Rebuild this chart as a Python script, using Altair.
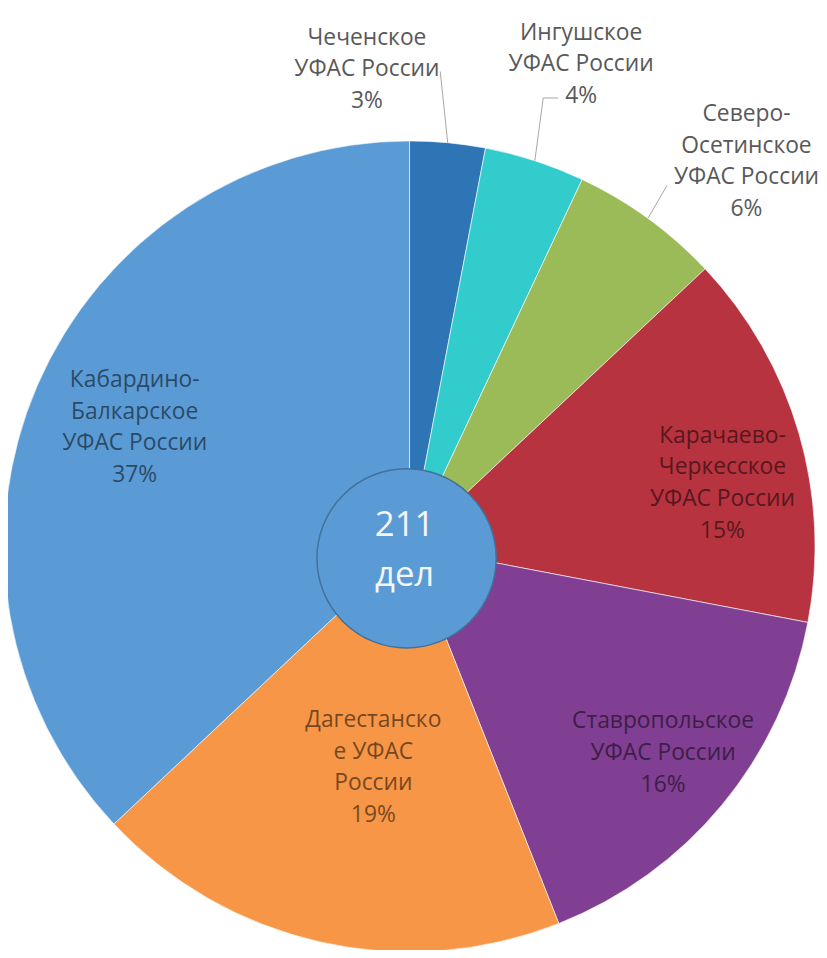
import math
import altair as alt
import pandas as pd

# ---- data ----
categories = [
    "Чеченское", "Ингушское", "Северо-Осетинское", "Карачаево-Черкесское",
    "Ставропольское", "Дагестанское", "Кабардино-Балкарское",
]
label_lines = [
    "Чеченское\nУФАС России",
    "Ингушское\nУФАС России",
    "Северо-\nОсетинское\nУФАС России",
    "Карачаево-\nЧеркесское\nУФАС России",
    "Ставропольское\nУФАС России",
    "Дагестанско\nе УФАС\nРоссии",
    "Кабардино-\nБалкарское\nУФАС России",
]
percents = [3, 4, 6, 15, 16, 19, 37]
colors = ["#2e75b6", "#33cccc", "#9bbb59", "#b6333f", "#803f93", "#f79646", "#5b9bd5"]
center_lines = ["211", "дел"]

# ---- layout / style (not data) ----
CX, CY, R = 405, 539, 409
FONT = "Open Sans"
LH = 32
# label radius, angular shift (deg), outside flag
label_r = [483, 516, 516, 322, 330, 226, 302]
label_shift = [-10.5, 1.6, 5.2, 4.8, -0.4, -3.3, 0.0]
outside = [1, 1, 1, 0, 0, 0, 0]
# leader end radius, end angular shift (deg), horizontal hook length
lead_r = [480, 472, 447, 0, 0, 0, 0]
lead_shift = [-1.7, -1.4, -0.5, 0, 0, 0, 0]
lead_hook = [0, 15, 0, 0, 0, 0, 0]

labels = [l + "\n" + f"{p}%" for l, p in zip(label_lines, percents)]
df = pd.DataFrame({
    "idx": list(range(len(categories))),
    "cat": categories,
    "pct": percents,
    "label": labels,
    "nl": [s.count("\n") + 1 for s in labels],
    "lr": label_r,
    "lshift": label_shift,
    "outside": outside,
    "er": lead_r,
    "eshift": lead_shift,
    "hook": lead_hook,
})

pie = alt.Chart(df).mark_arc(
    radius=R, stroke="white", strokeWidth=1, strokeOpacity=0.6
).encode(
    theta=alt.Theta("pct:Q", stack=True),
    order=alt.Order("idx:Q"),
    color=alt.Color("cat:N", scale=alt.Scale(domain=categories, range=colors), legend=None),
    x=alt.value(CX),
    y=alt.value(CY),
)

base = alt.Chart(df).transform_window(
    cum="sum(pct)", sort=[alt.SortField("idx")], frame=[None, 0]
).transform_calculate(
    mid="2*PI*(datum.cum - datum.pct/2)/100"
).transform_calculate(
    ang="datum.mid + datum.lshift*PI/180",
    a2="datum.mid + datum.eshift*PI/180",
)

def label_layer(flag, color, opacity):
    return base.transform_filter(f"datum.outside == {flag}").transform_calculate(
        lx=f"{CX} + datum.lr*sin(datum.ang)",
        ly=f"{CY} - datum.lr*cos(datum.ang) - (datum.nl - 1)*{LH}/2",
    ).mark_text(
        lineBreak="\n", font=FONT, fontSize=23, lineHeight=LH,
        baseline="middle", align="center", color=color, opacity=opacity,
    ).encode(
        x=alt.X("lx:Q", scale=None),
        y=alt.Y("ly:Q", scale=None),
        text="label:N",
    )

inner_labels = label_layer(0, "black", 0.52)
outer_labels = label_layer(1, "#595959", 1)

leaders = base.transform_filter("datum.outside == 1").transform_calculate(
    x1=f"{CX} + {R}*sin(datum.mid)",
    y1=f"{CY} - {R}*cos(datum.mid)",
    x2=f"{CX} + datum.er*sin(datum.a2)",
    y2=f"{CY} - datum.er*cos(datum.a2)",
).mark_rule(color="#a6a6a6", strokeWidth=1).encode(
    x=alt.X("x1:Q", scale=None), y=alt.Y("y1:Q", scale=None),
    x2="x2:Q", y2="y2:Q",
)

hooks = base.transform_filter("datum.hook > 0").transform_calculate(
    x1=f"{CX} + datum.er*sin(datum.a2)",
    y1=f"{CY} - datum.er*cos(datum.a2)",
).transform_calculate(
    x2="datum.x1 + datum.hook",
).mark_rule(color="#a6a6a6", strokeWidth=1).encode(
    x=alt.X("x1:Q", scale=None), y=alt.Y("y1:Q", scale=None),
    x2="x2:Q", y2="y1:Q",
)

circle = alt.Chart(pd.DataFrame({"k": [0]})).mark_circle(
    size=math.pi * 102 ** 2, color="#5b9bd5", opacity=1,
    stroke="#41719c", strokeWidth=1.5,
).encode(x=alt.value(402), y=alt.value(551))

cdf = pd.DataFrame({"t": center_lines, "row": [0, 1]})
center_text = alt.Chart(cdf).mark_text(
    font=FONT, fontSize=35, color="#f5f5f5", align="center", baseline="alphabetic"
).encode(
    x=alt.value(400),
    y=alt.Y("row:Q", scale=alt.Scale(domain=[0, 1], range=[528, 579]), axis=None),
    text="t:N",
)

chart = alt.layer(pie, leaders, hooks, inner_labels, outer_labels, circle, center_text).properties(
    width=818, height=942, padding=0, autosize="none"
).configure_view(stroke=None)

chart.save("out.html", embed_options={"renderer": "svg", "actions": False})
